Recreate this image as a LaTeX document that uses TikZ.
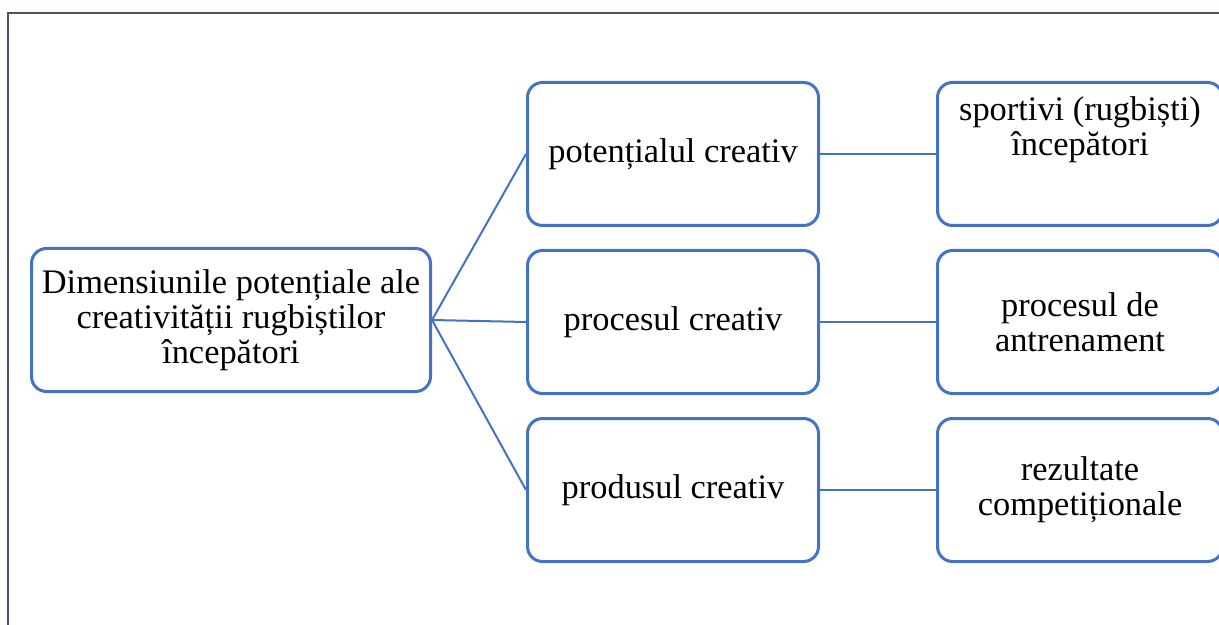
\documentclass[tikz,border=0pt]{standalone}
\usepackage{fontspec}
\setmainfont{Liberation Serif}
\usetikzlibrary{positioning}
\definecolor{boxblue}{HTML}{4472C4}
\definecolor{framegray}{HTML}{44546A}

\begin{document}
\begin{tikzpicture}[x=0.5pt,y=-0.5pt,node distance=11pt and 58pt,
  box/.style={draw=boxblue,line width=1.5pt,rounded corners=7.5pt,align=center,minimum height=71.5pt,font=\fontsize{17.2}{17.5}\selectfont},
  link/.style={draw=boxblue,line width=1pt}]
\useasboundingbox (0,0) rectangle (1219,625);
\clip (0,0) rectangle (1219,625);
\draw[framegray,line width=1pt] (8,640) |- (1230,13);

\node[box,minimum width=199.5pt] (dim) at (231,320) {Dimensiunile potențiale ale\\creativității rugbiștilor\\începători};
\node[box,minimum width=145.5pt,right=47pt of dim,yshift=-1pt] (proc) {procesul creativ};
\node[box,minimum width=145.5pt,above=of proc] (pot) {potențialul creativ};
\node[box,minimum width=145.5pt,below=of proc] (prod) {produsul creativ};
\node[box,minimum width=142.5pt,inner ysep=0pt,right=of pot] (sport) {sportivi (rugbiști)\\începători\\[5pt]\strut};
\node[box,minimum width=142.5pt,right=of proc] (antr) {procesul de\\antrenament};
\node[box,minimum width=142.5pt,right=of prod] (rez) {rezultate\\competiționale};

\draw[link] (dim.east) -- (pot.west);
\draw[link] (dim.east) -- (proc.west);
\draw[link] (dim.east) -- (prod.west);
\draw[link] (pot) -- (sport);
\draw[link] (proc) -- (antr);
\draw[link] (prod) -- (rez);
\end{tikzpicture}
\end{document}
